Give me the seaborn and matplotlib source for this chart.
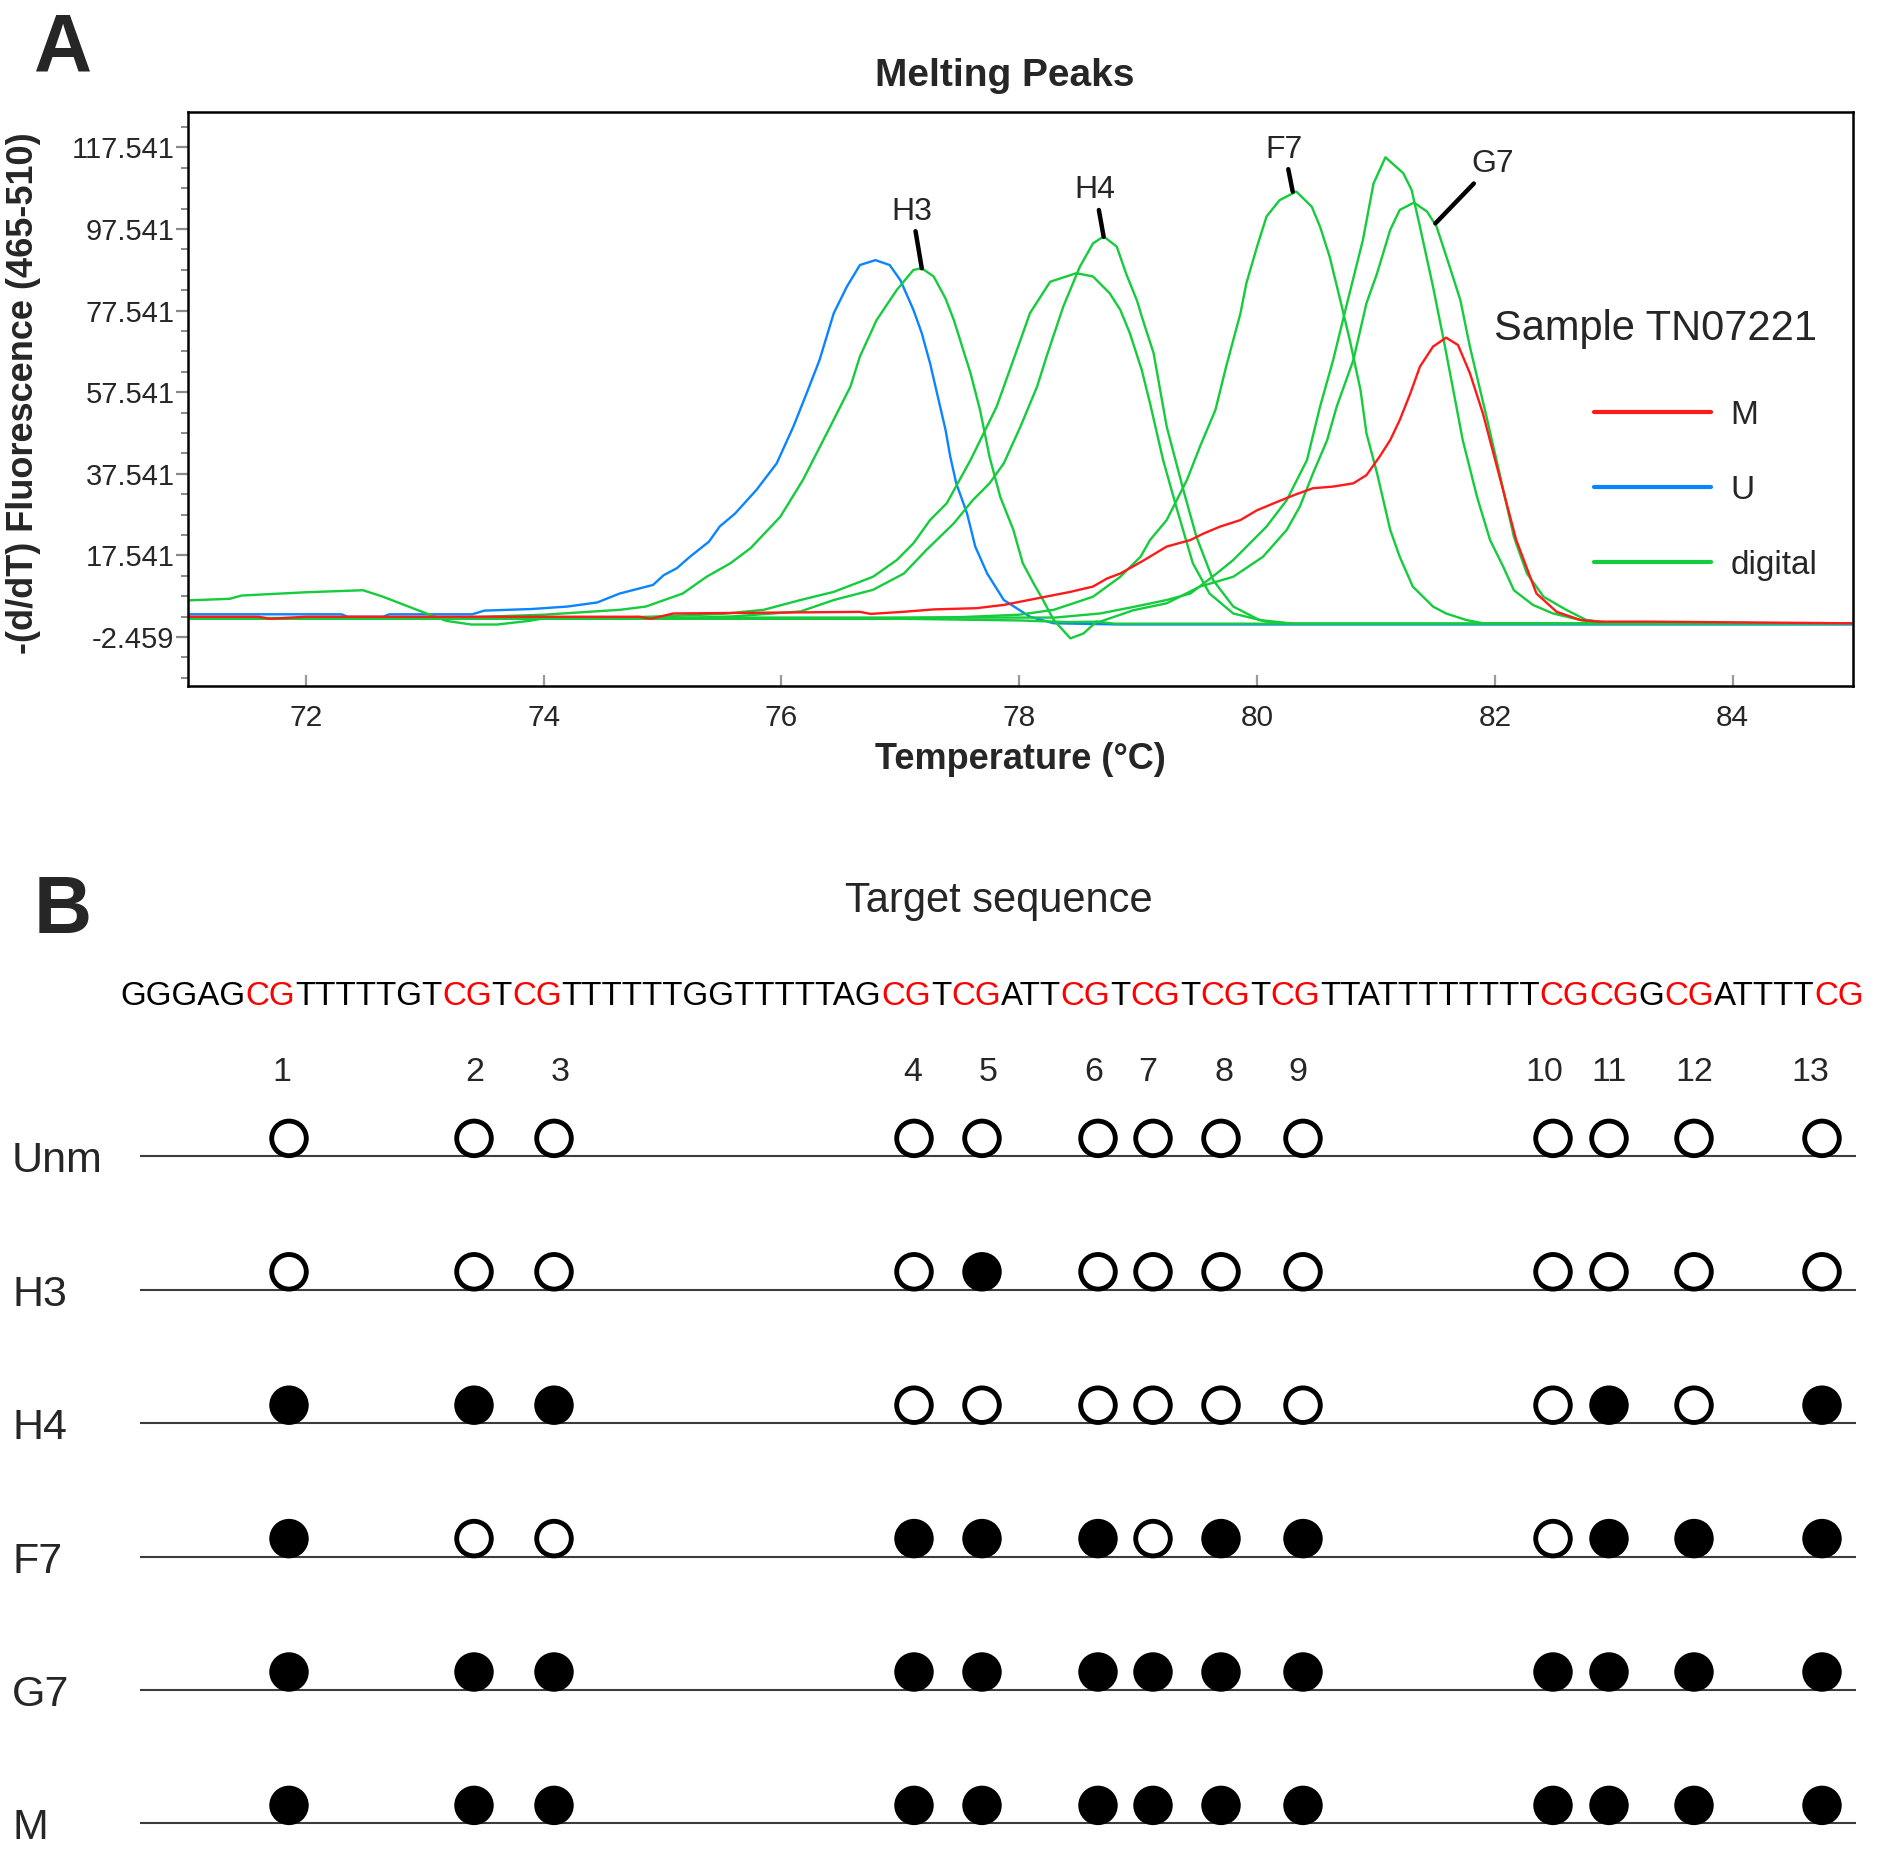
import re
import numpy as np
import pandas as pd
import matplotlib
matplotlib.use("Agg")
import matplotlib.pyplot as plt
import seaborn as sns
from matplotlib.lines import Line2D
from matplotlib.ticker import FixedLocator

# ---------------- data: melting curves (temperature, -dF/dT) ----------------
T_U = [71.0, 72.3, 72.35, 72.65, 72.7, 73.4, 73.5, 73.9, 74.2, 74.45, 74.64, 74.92, 75.01, 75.12,
       75.23, 75.39, 75.48, 75.61, 75.79, 75.96, 76.1, 76.2, 76.32, 76.44, 76.55, 76.66, 76.79,
       76.91, 77.0, 77.11, 77.18, 77.25, 77.38, 77.42, 77.47, 77.56, 77.63, 77.73, 77.87, 78.09,
       78.29, 78.85, 79.0, 85.0]
V_U = [3.1, 3.1, 2.5, 2.5, 3.1, 3.1, 4.0, 4.4, 5.0, 6.0, 8.2, 10.3, 12.7, 14.4, 17.2, 20.9, 24.6,
       27.8, 33.6, 40.1, 49.1, 56.4, 65.4, 76.9, 83.4, 88.7, 89.9, 88.7, 85.0, 77.7, 72.0, 64.6,
       48.3, 41.7, 35.2, 27.9, 19.7, 13.1, 6.6, 2.5, 0.9, 0.6, 0.6, 0.6]

T_H3 = [71.0, 73.0, 73.5, 74.0, 74.64, 74.86, 75.17, 75.37, 75.57, 75.74, 75.99, 76.18, 76.41,
        76.58, 76.66, 76.8, 76.97, 77.11, 77.18, 77.28, 77.38, 77.45, 77.59, 77.67, 77.75, 77.84,
        77.95, 78.03, 78.12, 78.2, 78.29, 78.43, 78.54, 78.65, 78.8, 85.0]
V_H3 = [2.0, 2.0, 2.5, 3.0, 4.2, 5.0, 8.2, 12.3, 15.6, 19.3, 27.0, 36.0, 49.1, 58.9, 66.3, 75.2,
        82.6, 87.5, 87.9, 85.9, 80.5, 75.2, 62.2, 53.2, 41.7, 31.9, 23.8, 15.6, 10.7, 6.6, 1.7,
        -2.8, -1.6, 1.3, 0.8, 0.8]

T_W = [71.0, 74.5, 75.0, 75.5, 75.85, 76.16, 76.44, 76.77, 76.97, 77.11, 77.25, 77.39, 77.59,
       77.81, 78.01, 78.09, 78.26, 78.48, 78.62, 78.76, 78.85, 78.93, 79.03, 79.1, 79.21, 79.32,
       79.46, 79.6, 79.8, 80.08, 80.3, 85.0]
V_W = [2.2, 2.2, 2.6, 3.2, 4.2, 6.6, 8.6, 12.3, 16.4, 20.5, 26.2, 30.3, 40.9, 54.0, 70.3, 76.9,
       84.6, 86.7, 85.9, 81.8, 77.7, 72.0, 63.0, 54.8, 40.9, 29.5, 15.6, 8.2, 3.3, 1.3, 0.8, 0.8]

T_H4 = [71.0, 75.0, 75.6, 76.16, 76.44, 76.77, 77.03, 77.22, 77.45, 77.61, 77.75, 77.87, 78.01,
        78.15, 78.23, 78.37, 78.51, 78.62, 78.71, 78.82, 78.9, 78.99, 79.04, 79.13, 79.24, 79.38,
        79.49, 79.63, 79.8, 80.02, 80.3, 85.0]
V_H4 = [2.0, 2.0, 2.6, 3.8, 6.6, 9.1, 13.1, 18.9, 25.4, 31.1, 35.2, 40.1, 49.1, 58.9, 66.3, 78.5,
        88.3, 94.0, 95.7, 93.2, 86.5, 80.0, 75.2, 67.1, 49.1, 33.6, 22.1, 11.5, 5.0, 1.7, 0.8, 0.8]

T_F7 = [71.0, 76.5, 77.5, 78.0, 78.29, 78.62, 78.85, 79.02, 79.1, 79.24, 79.41, 79.52, 79.65,
        79.74, 79.86, 79.91, 80.0, 80.08, 80.19, 80.33, 80.46, 80.53, 80.61, 80.7, 80.78, 80.87,
        80.92, 81.01, 81.12, 81.2, 81.31, 81.48, 81.59, 81.76, 81.9, 85.0]
V_F7 = [2.0, 2.0, 2.4, 3.0, 4.2, 7.4, 12.3, 17.2, 21.3, 26.2, 36.0, 44.2, 53.2, 63.8, 76.8, 84.2,
        93.2, 100.6, 104.6, 106.7, 103.0, 98.1, 90.8, 80.1, 70.3, 58.1, 47.5, 37.6, 23.8, 17.2,
        9.9, 5.0, 3.3, 1.7, 0.9, 0.8]

T_P = [71.0, 71.36, 71.46, 72.0, 72.48, 72.64, 72.97, 73.18, 73.39, 73.61, 73.88, 74.04, 76.0,
       77.5, 78.3, 78.68, 78.96, 79.24, 79.44, 79.66, 79.8, 80.08, 80.25, 80.42, 80.53, 80.64,
       80.75, 80.89, 80.98, 81.08, 81.23, 81.3, 81.37, 81.48, 81.57, 81.65, 81.73, 81.85, 81.96,
       82.07, 82.16, 82.32, 82.49, 82.72, 82.88, 85.0]
V_P = [6.5, 6.9, 7.7, 8.5, 9.0, 7.5, 3.8, 1.5, 0.6, 0.6, 1.5, 2.3, 2.3, 2.3, 2.3, 3.3, 4.9, 6.6,
       8.2, 13.1, 16.4, 24.6, 31.1, 40.9, 54.0, 65.4, 78.5, 94.8, 108.7, 115.1, 111.2, 107.1, 98.1,
       83.4, 70.3, 58.1, 45.8, 31.9, 21.3, 14.8, 9.0, 5.4, 3.3, 1.7, 1.0, 0.9]

T_G7 = [71.0, 77.0, 78.0, 78.4, 78.68, 78.96, 79.24, 79.52, 79.8, 80.05, 80.25, 80.36, 80.47,
        80.59, 80.67, 80.81, 80.92, 81.01, 81.12, 81.2, 81.32, 81.43, 81.51, 81.62, 81.71, 81.79,
        81.93, 82.04, 82.16, 82.27, 82.41, 82.6, 82.77, 82.97, 85.0]
V_G7 = [2.0, 2.0, 1.6, 1.2, 1.3, 4.1, 5.8, 9.9, 12.3, 17.2, 23.8, 29.5, 37.6, 45.8, 54.0, 65.4,
        79.3, 86.7, 97.3, 102.2, 104.0, 101.8, 98.1, 88.3, 80.1, 68.7, 51.5, 37.6, 22.1, 13.1,
        7.4, 4.2, 1.7, 1.0, 0.8]

T_M = [71.0, 71.6, 71.7, 72.0, 74.8, 74.9, 75.09, 76.66, 76.75, 77.02, 77.28, 77.64, 77.87, 78.15,
       78.43, 78.62, 78.74, 78.85, 79.04, 79.24, 79.44, 79.55, 79.69, 79.86, 80.0, 80.14, 80.31,
       80.47, 80.64, 80.81, 80.92, 81.03, 81.12, 81.2, 81.29, 81.37, 81.48, 81.59, 81.69, 81.79,
       81.9, 82.04, 82.18, 82.35, 82.52, 82.72, 82.88, 83.3, 85.0]
V_M = [2.5, 2.5, 2.0, 2.5, 2.5, 2.0, 3.3, 3.7, 3.2, 3.7, 4.3, 4.6, 5.4, 7.0, 8.6, 9.9, 11.9, 13.1,
       16.2, 19.7, 21.3, 22.9, 24.6, 26.2, 28.6, 30.3, 32.3, 34.0, 34.4, 35.2, 37.2, 41.7, 45.8,
       50.7, 57.3, 63.8, 68.7, 70.9, 69.1, 62.2, 52.3, 36.8, 21.3, 8.2, 3.7, 1.7, 1.3, 1.3, 0.9]

curve_names = ["H3", "W", "H4", "F7", "P", "G7", "U", "M"]
curve_kinds = ["digital", "digital", "digital", "digital", "digital", "digital", "U", "M"]
curve_T = [T_H3, T_W, T_H4, T_F7, T_P, T_G7, T_U, T_M]
curve_V = [V_H3, V_W, V_H4, V_F7, V_P, V_G7, V_U, V_M]

ytick_values = [-2.459, 17.541, 37.541, 57.541, 77.541, 97.541, 117.541]
ytick_labels = ["-2.459", "17.541", "37.541", "57.541", "77.541", "97.541", "117.541"]
xtick_values = [72, 74, 76, 78, 80, 82, 84]

peak_labels = ["H3", "H4", "F7", "G7"]
peak_label_T = [77.10, 78.64, 80.23, 81.98]
peak_label_v = [101.8, 107.0, 117.0, 113.4]
peak_tip_T = [77.18, 78.71, 80.30, 81.50]
peak_tip_v = [87.9, 95.6, 106.7, 98.9]

legend_labels = ["M", "U", "digital"]

# ---------------- data: panel B ----------------
target_sequence = "GGGAGCGTTTTTGTCGTCGTTTTTTGGTTTTTAGCGTCGATTCGTCGTCGTCGTTATTTTTTTTCGCGGCGATTTTCG"
site_numbers = ["1", "2", "3", "4", "5", "6", "7", "8", "9", "10", "11", "12", "13"]
site_x = [289, 474, 554, 914, 982, 1098, 1153, 1221, 1303, 1553, 1609, 1694, 1822]
number_x = [282, 475, 560, 913, 988, 1094, 1148, 1224, 1298, 1544, 1609, 1694, 1810]
row_labels = ["Unm", "H3", "H4", "F7", "G7", "M"]
meth_Unm = [0, 0, 0, 0, 0, 0, 0, 0, 0, 0, 0, 0, 0]
meth_H3 = [0, 0, 0, 0, 1, 0, 0, 0, 0, 0, 0, 0, 0]
meth_H4 = [1, 1, 1, 0, 0, 0, 0, 0, 0, 0, 1, 0, 1]
meth_F7 = [1, 0, 0, 1, 1, 1, 0, 1, 1, 0, 1, 1, 1]
meth_G7 = [1, 1, 1, 1, 1, 1, 1, 1, 1, 1, 1, 1, 1]
meth_M = [1, 1, 1, 1, 1, 1, 1, 1, 1, 1, 1, 1, 1]
meth_rows = [meth_Unm, meth_H3, meth_H4, meth_F7, meth_G7, meth_M]

# ---------------- style ----------------
sns.set_style("white")
REG = "Liberation Sans"
plt.rcParams["font.family"] = [REG, "DejaVu Sans"]

W, H = 1881, 1851
fig = plt.figure(figsize=(W / 100, H / 100), dpi=100)

# ---------------- panel A ----------------
axA = fig.add_axes([188.3 / W, 1 - 686.2 / H, 1665 / W, 574.6 / H])
recs = []
for nm, kd, ts, vs in zip(curve_names, curve_kinds, curve_T, curve_V):
    for t, v in zip(ts, vs):
        recs.append({"T": t, "v": v, "curve": nm, "kind": kd})
df = pd.DataFrame(recs)
palette = {"M": "#ff1a1a", "U": "#0a84ff", "digital": "#14cc3c"}
for kd in ["U", "digital", "M"]:
    sub = df[df["kind"] == kd]
    sns.lineplot(data=sub, x="T", y="v", units="curve", estimator=None, sort=False,
                 color=palette[kd], lw=1.7, ax=axA, legend=False)

axA.set_xlim(71.011, 85.015)
axA.set_ylim(-14.52, 126.3)
axA.set_yticks(ytick_values)
axA.set_yticklabels(ytick_labels)
axA.yaxis.set_minor_locator(FixedLocator(np.arange(-12.459, 126, 5.0)))
axA.set_xticks(xtick_values)
axA.set_xticklabels([str(x) for x in xtick_values])
axA.tick_params(axis="y", which="major", direction="out", length=9, width=1.6,
                color="#8a8a8a", labelsize=21, pad=1, left=True)
axA.tick_params(axis="y", which="minor", direction="out", length=5, width=1.4,
                color="#8a8a8a", left=True)
axA.tick_params(axis="x", which="major", direction="in", length=8, width=1.6,
                color="#9a9a9a", labelsize=21.5, pad=13, bottom=True)
for sp in axA.spines.values():
    sp.set_visible(True)
    sp.set_color("black")
    sp.set_linewidth(1.8)
axA.grid(False)

axA.set_xlabel("Temperature (°C)", fontsize=26, fontweight="bold")
axA.xaxis.set_label_coords(0.5, -0.097)
axA.xaxis.label.set_va("top")
axA.set_ylabel("-(d/dT) Fluorescence (465-510)", fontsize=26, fontweight="bold")
axA.yaxis.set_label_coords(-0.0885, 0.51)

axA.text(0.4905, 1 + (111.6 - 86.4) / 574.6, "Melting Peaks", transform=axA.transAxes,
         ha="center", va="baseline", fontsize=28, fontweight="bold")

for lab, lt, lv, pt, pv in zip(peak_labels, peak_label_T, peak_label_v, peak_tip_T, peak_tip_v):
    axA.annotate(lab, xy=(pt, pv), xytext=(lt, lv), ha="center", va="center", fontsize=23,
                 arrowprops=dict(arrowstyle="-", lw=3.2, color="black", shrinkA=1, shrinkB=0))

handles = [Line2D([0], [0], color=palette[k], lw=3.0) for k in legend_labels]
leg = axA.legend(handles, legend_labels, title="Sample TN07221", loc="upper right",
                 bbox_to_anchor=(0.9885, 0.686), frameon=False, fontsize=24,
                 title_fontsize=30, handlelength=3.5, handletextpad=0.6,
                 labelspacing=1.32, borderpad=0, alignment="right")
leg._legend_box.sep = 37

fig.text(34 / W, 1 - 70 / H, "A", ha="left", va="baseline", fontsize=58, fontweight="bold")
fig.text(34 / W, 1 - 933 / H, "B", ha="left", va="baseline", fontsize=58, fontweight="bold")

# ---------------- panel B ----------------
row_px = 133.4
line0 = 1156.4
top_px = 830.0
axB = fig.add_axes([0, 0, 1, (H - top_px) / H])

rows_idx = list(range(len(row_labels)))
axB.hlines(rows_idx, 140.4, 1855.8, color="#3c3c3c", lw=1.5, zorder=1)

srecs = []
for r, (lab, meth) in enumerate(zip(row_labels, meth_rows)):
    for x, m in zip(site_x, meth):
        srecs.append({"x": x, "y": r - 0.135, "state": "methylated" if m else "unmethylated"})
sdf = pd.DataFrame(srecs)
sns.scatterplot(data=sdf, x="x", y="y", hue="state",
                palette={"methylated": "black", "unmethylated": "white"},
                s=620, edgecolor="black", linewidth=3.5, legend=False, ax=axB, zorder=3)
axB.set_xlim(0, W)
axB.set_ylim((H - line0) / row_px, (top_px - line0) / row_px)
axB.axis("off")

for r, lab in enumerate(row_labels):
    axB.text(12, r + 0.12, lab, ha="left", va="baseline", fontsize=31)

for n, x in zip(site_numbers, number_x):
    axB.text(x, -0.565, n, ha="center", va="baseline", fontsize=24.5)

fig.text(999.3 / W, 1 - 912 / H, "Target sequence", ha="center", va="baseline", fontsize=30)

parts = [p for p in re.split("(CG)", target_sequence) if p]
prev = axB.text(120, -1.133, parts[0], ha="left", va="baseline", fontsize=23.85,
                color="red" if parts[0] == "CG" else "black")
for p in parts[1:]:
    prev = axB.annotate(p, xy=(1, 0), xycoords=prev, ha="left", va="bottom", fontsize=23.85,
                        color="red" if p == "CG" else "black")

fig.savefig("out.png", dpi=100)
